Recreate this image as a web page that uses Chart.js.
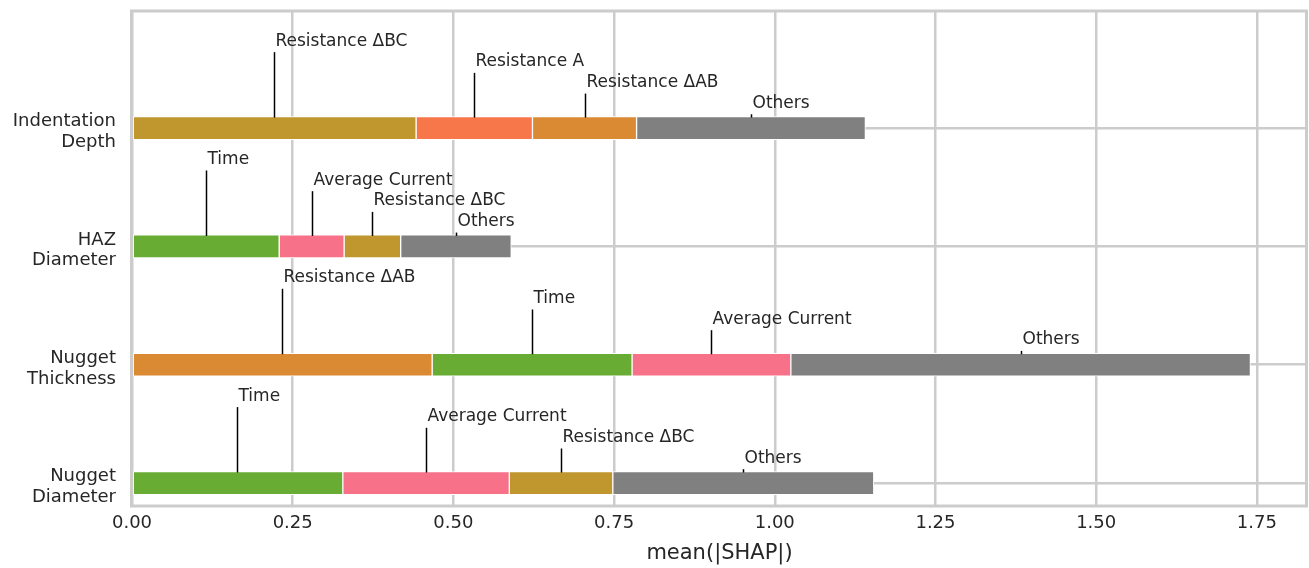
<!DOCTYPE html>
<html>
<head>
<meta charset="utf-8">
<title>mean(|SHAP|) by output</title>
<script src="https://cdn.jsdelivr.net/npm/chart.js@4.4.1/dist/chart.umd.min.js"></script>
<style>
  html, body { margin: 0; padding: 0; background: #ffffff; }
  #wrap { width: 1309px; height: 568px; }
</style>
</head>
<body>
<div id="wrap"><canvas id="chart" width="1309" height="568"></canvas></div>
<script>
// Outputs, listed top to bottom
const categories = [
  ['Indentation', 'Depth'],
  ['HAZ', 'Diameter'],
  ['Nugget', 'Thickness'],
  ['Nugget', 'Diameter']
];

// Feature of each stacked segment, left to right, per output
const indentationFeatures = ['Resistance ΔBC', 'Resistance A', 'Resistance ΔAB', 'Others'];
const hazFeatures         = ['Time', 'Average Current', 'Resistance ΔBC', 'Others'];
const thicknessFeatures   = ['Resistance ΔAB', 'Time', 'Average Current', 'Others'];
const diameterFeatures    = ['Time', 'Average Current', 'Resistance ΔBC', 'Others'];

// mean(|SHAP|) of each segment, same order as above
const indentationValues = [0.442, 0.181, 0.162, 0.356];
const hazValues         = [0.229, 0.101, 0.088, 0.172];
const thicknessValues   = [0.467, 0.311, 0.247, 0.715];
const diameterValues    = [0.328, 0.259, 0.161, 0.406];

const xTickValues = [0, 0.25, 0.5, 0.75, 1.0, 1.25, 1.5, 1.75];

const featureColors = {
  'Resistance ΔBC': '#C0962F',
  'Resistance A': '#F7774A',
  'Resistance ΔAB': '#DA8A33',
  'Average Current': '#F77189',
  'Time': '#69AC33',
  'Others': '#808080'
};

const featureRows = [indentationFeatures, hazFeatures, thicknessFeatures, diameterFeatures];
const valueRows = [indentationValues, hazValues, thicknessValues, diameterValues];

const TEXT = '#262626';
const GRID = '#cccccc';
const BAR_THICKNESS = 23;
// vertical lift of each segment label above its bar, in category units
const labelLift = [0.735, 0.56, 0.385, 0.21];

const segmentCount = 4;
const datasets = [];
for (let k = 0; k < segmentCount; k++) {
  datasets.push({
    label: 'segment ' + (k + 1),
    data: valueRows.map((row, i) => ({ x: row[k], y: i })),
    backgroundColor: featureRows.map(row => featureColors[row[k]]),
    borderColor: '#ffffff',
    borderWidth: 1,
    borderSkipped: false,
    barThickness: BAR_THICKNESS
  });
}

// light frame around the plotting area
const framePlugin = {
  id: 'frame',
  beforeDatasetsDraw(chart) {
    const { ctx, chartArea: a } = chart;
    ctx.save();
    ctx.strokeStyle = GRID;
    ctx.lineWidth = 3;
    ctx.strokeRect(a.left - 0.5, a.top, a.right - a.left, a.bottom - a.top);
    ctx.restore();
  }
};

// feature name above each segment with a leader line down to the bar
const segmentLabels = {
  id: 'segmentLabels',
  afterDatasetsDraw(chart) {
    const { ctx } = chart;
    const xs = chart.scales.x, ys = chart.scales.y;
    ctx.save();
    ctx.font = '17px "DejaVu Sans"';
    ctx.fillStyle = TEXT;
    ctx.strokeStyle = '#000000';
    ctx.lineWidth = 1.5;
    ctx.textAlign = 'left';
    ctx.textBaseline = 'middle';
    valueRows.forEach((row, i) => {
      let start = 0;
      const yc = ys.getPixelForValue(i);
      row.forEach((v, k) => {
        const mid = start + v / 2;
        start += v;
        const px = Math.round(xs.getPixelForValue(mid)) + 0.5;
        const ty = ys.getPixelForValue(i - labelLift[k]);
        const lineTop = ty + 11;
        const lineBottom = yc - BAR_THICKNESS / 2 + 1;
        if (lineBottom > lineTop) {
          ctx.beginPath();
          ctx.moveTo(px, lineTop);
          ctx.lineTo(px, lineBottom);
          ctx.stroke();
        }
        ctx.fillText(featureRows[i][k], px + 1, ty);
      });
    });
    ctx.restore();
  }
};

Chart.defaults.font.family = '"DejaVu Sans", sans-serif';
Chart.defaults.color = TEXT;

new Chart(document.getElementById('chart'), {
  type: 'bar',
  data: { datasets },
  options: {
    indexAxis: 'y',
    responsive: false,
    animation: false,
    devicePixelRatio: 1,
    layout: { padding: { top: 11, right: 2, bottom: 0, left: 0 } },
    plugins: {
      legend: { display: false },
      tooltip: { enabled: false }
    },
    scales: {
      x: {
        type: 'linear',
        stacked: true,
        min: 0,
        max: 1.828,
        offset: false,
        afterBuildTicks(scale) { scale.ticks = xTickValues.map(v => ({ value: v })); },
        afterFit(scale) { scale.height = 62; scale.paddingLeft = 0; scale.paddingRight = 0; },
        grid: { color: GRID, lineWidth: 2.5, drawTicks: false, offset: false },
        border: { display: false },
        ticks: {
          padding: 7,
          font: { size: 18 },
          color: TEXT,
          maxRotation: 0,
          callback: v => Number(v).toFixed(2)
        },
        title: {
          display: true,
          text: 'mean(|SHAP|)',
          font: { size: 21 },
          color: TEXT,
          padding: { top: 0, bottom: 2 }
        }
      },
      y: {
        type: 'linear',
        stacked: true,
        reverse: true,
        min: -0.99,
        max: 3.194,
        offset: false,
        afterBuildTicks(scale) { scale.ticks = categories.map((c, i) => ({ value: i })); },
        afterFit(scale) { scale.width = 132; scale.paddingTop = 0; scale.paddingBottom = 0; },
        grid: { color: GRID, lineWidth: 2.5, drawTicks: false, offset: false },
        border: { display: false },
        ticks: {
          padding: 16,
          labelOffset: 4,
          font: { size: 18, lineHeight: 1.15 },
          color: TEXT,
          callback: v => categories[v]
        }
      }
    }
  },
  plugins: [framePlugin, segmentLabels]
});
</script>
</body>
</html>
